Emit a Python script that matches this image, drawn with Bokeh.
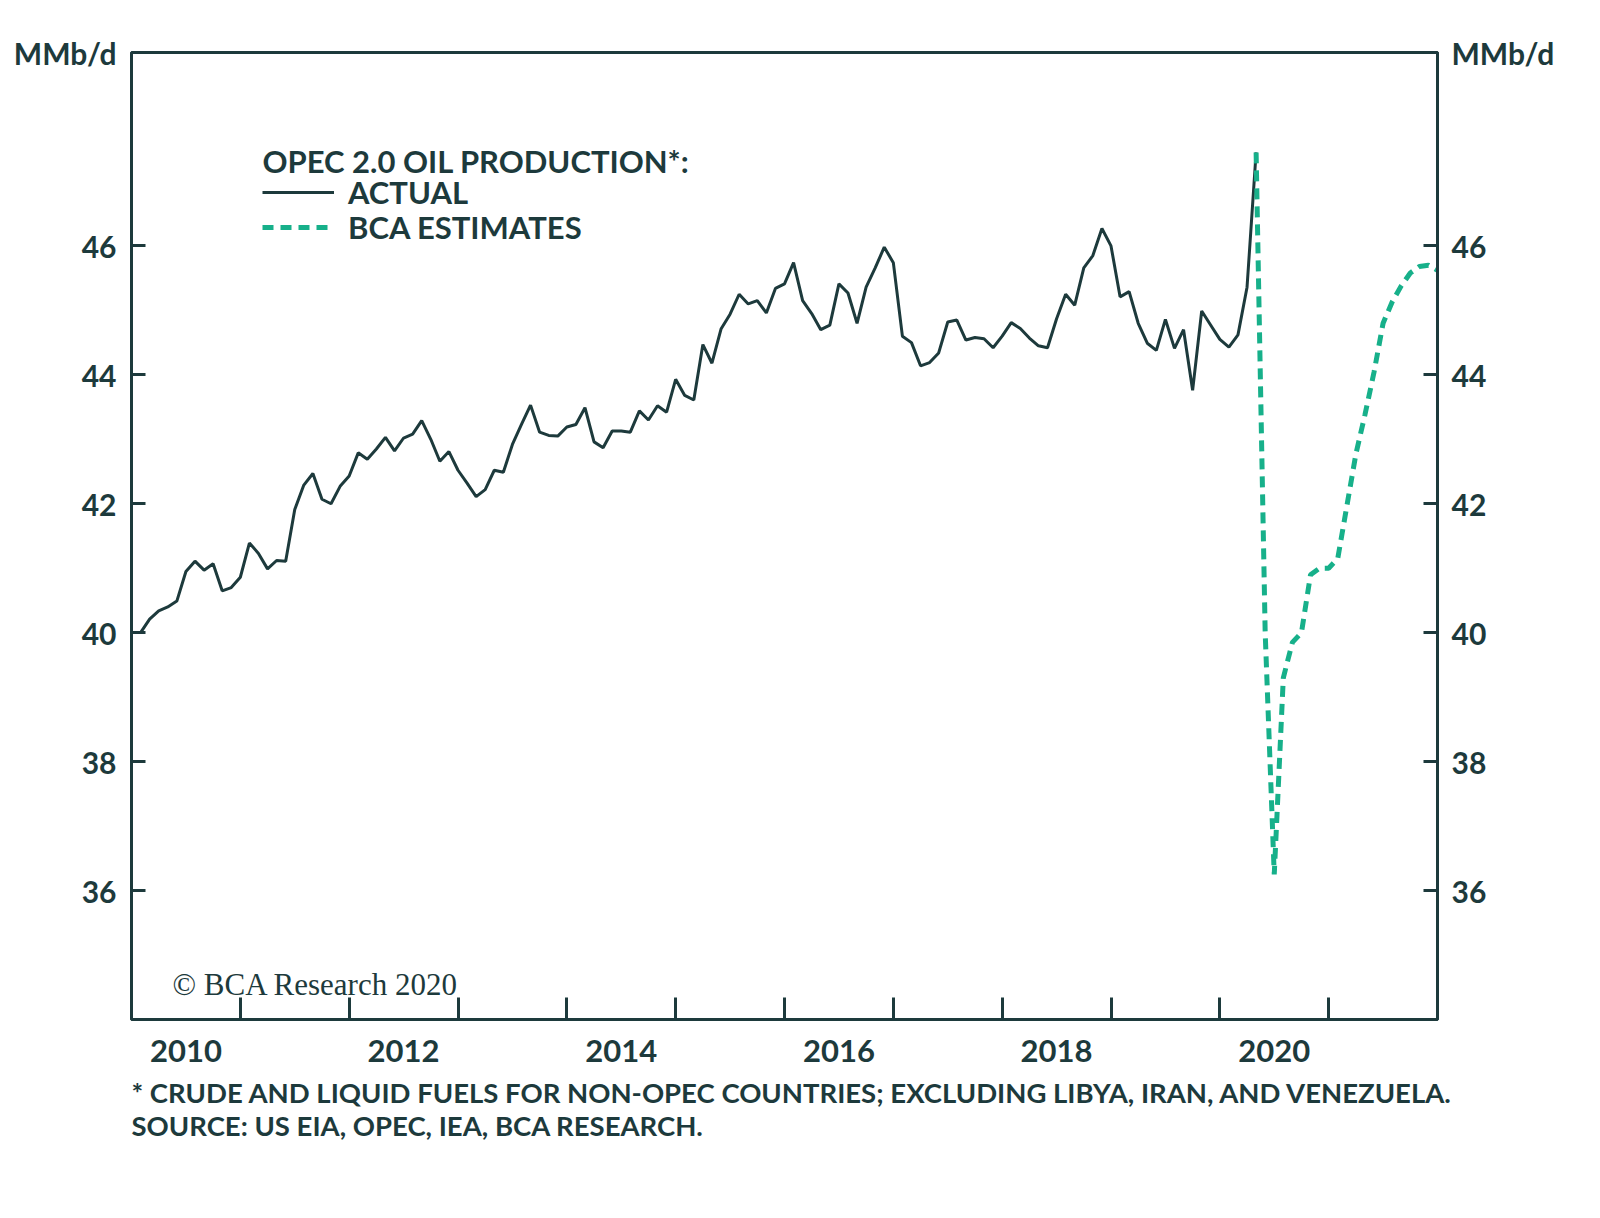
from bokeh.plotting import figure
from bokeh.models import Range1d, LinearAxis, FixedTicker, Label, Legend, LegendItem, Title
from bokeh.embed import file_html
from bokeh.resources import INLINE

# ---------------- data (MMb/d), monthly, plotted at month end ----------------
actual_start = (2010, 1)
actual_2010 = [40.00, 40.21, 40.34, 40.40, 40.49, 40.95, 41.11, 40.97, 41.07, 40.65, 40.70, 40.86]
actual_2011 = [41.39, 41.23, 40.99, 41.12, 41.11, 41.91, 42.29, 42.47, 42.07, 42.00, 42.27, 42.43]
actual_2012 = [42.79, 42.69, 42.85, 43.03, 42.82, 43.02, 43.08, 43.29, 43.00, 42.66, 42.81, 42.52]
actual_2013 = [42.32, 42.11, 42.22, 42.52, 42.49, 42.92, 43.23, 43.53, 43.11, 43.06, 43.05, 43.19]
actual_2014 = [43.23, 43.49, 42.96, 42.87, 43.13, 43.13, 43.11, 43.44, 43.30, 43.52, 43.42, 43.93]
actual_2015 = [43.68, 43.61, 44.47, 44.18, 44.71, 44.94, 45.25, 45.10, 45.15, 44.96, 45.34, 45.41]
actual_2016 = [45.74, 45.15, 44.95, 44.70, 44.77, 45.41, 45.27, 44.80, 45.36, 45.66, 45.98, 45.74]
actual_2017 = [44.60, 44.50, 44.14, 44.19, 44.34, 44.82, 44.85, 44.54, 44.58, 44.56, 44.42, 44.60]
actual_2018 = [44.81, 44.72, 44.57, 44.45, 44.42, 44.87, 45.25, 45.08, 45.66, 45.85, 46.27, 46.00]
actual_2019 = [45.21, 45.29, 44.80, 44.49, 44.38, 44.86, 44.41, 44.70, 43.76, 44.99, 44.77, 44.55]
actual_2020 = [44.43, 44.62, 45.36, 47.45]

estimate_start = (2020, 4)
estimate_2020 = [47.45, 40.00, 36.25, 39.30, 39.85, 40.00, 40.90, 41.00, 41.00]
estimate_2021 = [41.15, 41.96, 42.77, 43.38, 44.04, 44.80, 45.13, 45.38, 45.58, 45.68, 45.70, 45.62]

y_ticks = [36, 38, 40, 42, 44, 46]
year_labels = ["2010", "2012", "2014", "2016", "2018", "2020"]
year_marks = list(range(2011, 2022))

title_text = "OPEC 2.0 OIL PRODUCTION*:"
actual_label = "ACTUAL"
estimate_label = "BCA ESTIMATES"
unit_text = "MMb/d"
note_1 = "* CRUDE AND LIQUID FUELS FOR NON-OPEC COUNTRIES; EXCLUDING LIBYA, IRAN, AND VENEZUELA."
note_2 = "SOURCE: US EIA, OPEC, IEA, BCA RESEARCH."
copyright_text = "\u00a9 BCA Research 2020"

# ---------------- build series ----------------
actual_values = (actual_2010 + actual_2011 + actual_2012 + actual_2013 + actual_2014 +
                 actual_2015 + actual_2016 + actual_2017 + actual_2018 + actual_2019 + actual_2020)
estimate_values = estimate_2020 + estimate_2021


def month_end(start, n):
    y0, m0 = start
    return [y0 + (m0 + i) / 12.0 for i in range(n)]


actual_x = month_end(actual_start, len(actual_values))
estimate_x = month_end(estimate_start, len(estimate_values))

DARK = "#1d3a3c"
GREEN = "#17b08a"
FONT = "Lato"
Y_TOP = 49

p = figure(width=1584, height=1202,
           x_range=Range1d(2010, 2022), y_range=Range1d(34, Y_TOP),
           output_backend="svg", toolbar_location=None,
           min_border_left=131, min_border_right=147,
           min_border_top=52, min_border_bottom=183,
           background_fill_color="white", border_fill_color="white")

p.xgrid.visible = False
p.ygrid.visible = False
p.outline_line_color = DARK
p.outline_line_width = 3
p.outline_line_alpha = 1.0

# x axis: labels at mid-year, inside ticks at year boundaries
label_pos = [int(t) + 0.5 for t in year_labels]
xa = p.xaxis[0]
xa.ticker = FixedTicker(ticks=label_pos, minor_ticks=year_marks)
xa.major_label_overrides = {pos: lab for pos, lab in zip(label_pos, year_labels)}
xa.major_tick_in = 0
xa.major_tick_out = 0
xa.minor_tick_in = 22
xa.minor_tick_out = 0
xa.minor_tick_line_color = DARK
xa.minor_tick_line_width = 3
xa.axis_line_color = DARK
xa.axis_line_width = 3
xa.major_label_standoff = 20
xa.major_label_text_font = FONT
xa.major_label_text_font_style = "bold"
xa.major_label_text_font_size = "31px"
xa.major_label_text_color = DARK


def style_y(ax, standoff):
    ax.ticker = FixedTicker(ticks=y_ticks + [Y_TOP])
    ax.major_label_overrides = {Y_TOP: unit_text}
    ax.major_tick_in = 14
    ax.major_tick_out = 0
    ax.major_tick_line_color = DARK
    ax.major_tick_line_width = 3
    ax.minor_tick_line_color = None
    ax.axis_line_color = DARK
    ax.axis_line_width = 3
    ax.major_label_standoff = standoff
    ax.major_label_text_font = FONT
    ax.major_label_text_font_style = "bold"
    ax.major_label_text_font_size = "30px"
    ax.major_label_text_color = DARK


style_y(p.yaxis[0], 15)
right_axis = LinearAxis()
style_y(right_axis, 14)
p.add_layout(right_axis, "right")

r_actual = p.line(actual_x, actual_values, line_color=DARK, line_width=3)
r_est = p.line(estimate_x, estimate_values, line_color=GREEN, line_width=5,
               line_dash="11 7")


def add_legend(label, renderer, bottom_offset):
    p.add_layout(Legend(items=[LegendItem(label=label, renderers=[renderer])],
                        location=(131, bottom_offset),
                        padding=0, margin=0, spacing=0,
                        glyph_width=72, glyph_height=42, label_height=42,
                        label_standoff=14,
                        background_fill_alpha=0, border_line_color=None,
                        label_text_font=FONT, label_text_font_style="bold",
                        label_text_font_size="31px", label_text_color=DARK))


# row centres 141 px and 176 px below the top of the frame
add_legend(actual_label, r_actual, 806)
add_legend(estimate_label, r_est, 771)

p.add_layout(Label(x=2010, y=Y_TOP, text=title_text, x_offset=131, y_offset=-108,
                   text_align="left", text_baseline="middle",
                   text_font=FONT, text_font_style="bold", text_font_size="31px",
                   text_color=DARK))

p.add_layout(Label(x=2010, y=34, text=copyright_text, x_offset=41, y_offset=35,
                   text_align="left", text_baseline="middle",
                   text_font="Liberation Serif", text_font_size="31px",
                   text_color=DARK))

p.add_layout(Title(text=note_1 + "\n" + note_2, align="left", offset=0,
                   standoff=18, text_line_height=1.0,
                   text_font=FONT, text_font_style="bold",
                   text_font_size="27.5px", text_color=DARK), "below")

open("out.html", "w").write(file_html(p, INLINE))
